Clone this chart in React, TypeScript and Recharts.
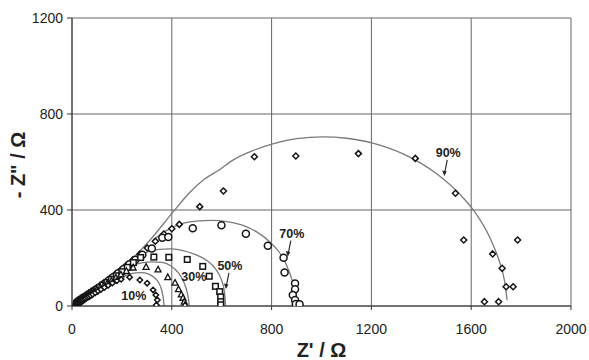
import React from 'react';
import { ComposedChart, XAxis, YAxis, CartesianGrid, Line, Scatter, Label } from 'recharts';

type P = { x: number; y: number };
const pts = (a: number[][]): P[] => a.map(([x, y]) => ({ x, y }));

const xTicks = [0, 400, 800, 1200, 1600, 2000];
const yTicks = [0, 400, 800, 1200];

// measured points (Z', -Z'') for each relative humidity
const rh10 = pts([
  [16, 5], [17, 7], [18, 9], [19, 11], [20, 12], [22, 13], [24, 15], [26, 16], [28, 18], [31, 19], [34, 21],
  [37, 23], [41, 25], [45, 27], [50, 30], [55, 33], [61, 36], [68, 40], [75, 44], [83, 49], [93, 55],
  [104, 62], [116, 69], [130, 77], [145, 86], [162, 96], [180, 105], [197, 111],
  [231, 120], [272, 108], [301, 95], [325, 67], [336, 46], [342, 25], [338, 4],
]);
const rh30 = pts([
  [17, 6], [18, 8], [19, 10], [20, 12], [21, 14], [23, 15], [25, 17], [27, 19], [30, 21], [33, 23], [36, 25],
  [40, 28], [44, 31], [49, 34], [54, 37], [60, 41], [66, 45], [73, 50], [81, 55], [90, 61], [100, 68],
  [112, 75], [126, 84], [141, 94], [158, 105], [176, 118], [196, 131], [218, 146], [245, 160],
  [297, 163], [345, 152], [384, 120], [413, 97], [427, 70], [438, 48], [445, 34], [450, 18], [453, 5],
]);
const rh50 = pts([
  [18, 7], [19, 9], [20, 11], [21, 13], [23, 15], [25, 17], [27, 19], [30, 21], [33, 24], [37, 26],
  [41, 29], [46, 33], [51, 36], [57, 40], [64, 45], [71, 50], [79, 56], [88, 62], [98, 69], [110, 77],
  [124, 87], [140, 98], [158, 111], [178, 126], [200, 143], [222, 161], [246, 181], [275, 202],
  [328, 204], [388, 203], [462, 194], [524, 165], [550, 124], [575, 82], [592, 60], [596, 38], [596, 18], [596, 5],
]);
const rh70 = pts([
  [19, 8], [20, 10], [21, 12], [22, 14], [24, 16], [26, 18], [29, 20], [32, 22], [35, 25], [39, 28],
  [43, 31], [48, 34], [53, 38], [59, 42], [66, 47], [74, 52], [83, 59], [93, 66], [104, 74], [117, 83],
  [131, 94], [147, 106], [165, 120], [185, 136], [207, 154], [230, 174], [254, 193], [282, 214],
  [320, 240], [362, 284], [386, 288], [484, 324], [599, 336], [697, 301], [785, 251], [848, 201],
  [852, 140], [894, 94], [894, 70], [885, 46], [894, 25], [897, 8], [912, 7],
]);
const rh90 = pts([
  [20, 9], [21, 11], [22, 13], [24, 15], [26, 17], [28, 19], [31, 21], [34, 24], [38, 27], [42, 30],
  [47, 34], [52, 38], [58, 42], [65, 47], [73, 53], [82, 60], [92, 68], [104, 77], [118, 88], [134, 100],
  [152, 115], [172, 131], [194, 149], [218, 170], [244, 192], [272, 216], [302, 242], [334, 270],
  [368, 300], [400, 322], [430, 340], [512, 414], [607, 479], [731, 622], [897, 625],
  [1148, 635], [1376, 615], [1537, 470], [1570, 275], [1786, 275], [1686, 217], [1724, 157],
  [1740, 80], [1768, 80], [1653, 18], [1710, 18],
]);

// fitted arcs
const fit10 = pts([
  [205, 122], [230, 133], [255, 138], [280, 139], [305, 134], [328, 120], [348, 96], [360, 64], [366, 32], [369, 0],
]);
const fit30 = pts([
  [246, 171], [280, 180], [320, 184], [360, 182], [395, 168], [425, 140], [448, 100], [462, 55], [468, 20], [470, 0],
]);
const fit50 = pts([
  [273, 212], [310, 228], [350, 236], [390, 238], [440, 232], [490, 216], [540, 190], [575, 155], [598, 112],
  [610, 65], [614, 25], [615, 0],
]);
const fit70 = pts([
  [325, 275], [380, 315], [440, 343], [500, 354], [560, 357], [620, 352], [680, 338], [740, 309], [790, 270],
  [830, 225], [860, 170], [880, 115], [894, 60], [900, 20], [902, 0],
]);
const fit90 = pts([
  [250, 205], [313, 275], [406, 393], [470, 471], [530, 528], [590, 567], [650, 611], [731, 650], [808, 677],
  [900, 697], [1008, 705], [1100, 699], [1209, 678], [1329, 633], [1463, 550], [1556, 464], [1610, 398],
  [1677, 280], [1710, 195], [1733, 108], [1744, 25],
]);

const pctLabels = [
  { x: 248, y: 42, text: '10%', arrow: false },
  { x: 488, y: 121, text: '30%', arrow: false },
  { x: 633, y: 167, text: '50%', arrow: true },
  { x: 881, y: 302, text: '70%', arrow: true },
  { x: 1508, y: 638, text: '90%', arrow: true },
];

const INK = '#151515';
const FONT = 'Liberation Sans, Arial, Helvetica, sans-serif';
const SW = 1.5;

const diamond = (r: number) => (p: any) => {
  const { cx, cy } = p;
  if (cx == null || cy == null) return <g />;
  return (
    <path d={`M${cx},${cy - r}L${cx + r},${cy}L${cx},${cy + r}L${cx - r},${cy}Z`} fill="#fff" stroke={INK} strokeWidth={SW} />
  );
};
const circle = (p: any) => {
  const { cx, cy } = p;
  if (cx == null || cy == null) return <g />;
  return <circle cx={cx} cy={cy} r={3.5} fill="#fff" stroke={INK} strokeWidth={SW} />;
};
const square = (p: any) => {
  const { cx, cy } = p;
  if (cx == null || cy == null) return <g />;
  return <rect x={cx - 2.8} y={cy - 2.8} width={5.6} height={5.6} fill="#fff" stroke={INK} strokeWidth={SW} />;
};
const triangle = (p: any) => {
  const { cx, cy } = p;
  if (cx == null || cy == null) return <g />;
  return <path d={`M${cx},${cy - 3.2}L${cx + 3},${cy + 2.4}L${cx - 3},${cy + 2.4}Z`} fill="#fff" stroke={INK} strokeWidth={1.3} />;
};
const pctShape = (p: any) => {
  const { cx, cy, payload } = p;
  if (cx == null || cy == null) return <g />;
  return (
    <g>
      <text x={cx} y={cy} textAnchor="middle" dominantBaseline="central" fontFamily={FONT} fontWeight="bold" fontSize={12.5} fill="#222">
        {payload.text}
      </text>
      {payload.arrow && (
        <g>
          <line x1={cx - 1} y1={cy + 7} x2={cx - 3.4} y2={cy + 19} stroke="#222" strokeWidth={1.1} />
          <path d={`M${cx - 4},${cy + 23}L${cx - 6},${cy + 17.5}L${cx - 1.5},${cy + 18.5}Z`} fill="#222" />
        </g>
      )}
    </g>
  );
};

const lineProps = { dataKey: 'y', type: 'monotone' as const, dot: false, stroke: '#7a7a7a', strokeWidth: 1.3, isAnimationActive: false, legendType: 'none' as const };

export default function App() {
  return (
    <div style={{ position: 'absolute', left: 0, top: 0, background: '#fff' }}>
      <ComposedChart width={589} height={360} margin={{ top: 18, right: 18, bottom: 0, left: 12 }}>
        <CartesianGrid stroke="#666" strokeWidth={1} />
        <XAxis
          type="number"
          dataKey="x"
          domain={[0, 2000]}
          ticks={xTicks}
          allowDataOverflow
          height={54}
          stroke="#333"
          tickSize={4}
          tickMargin={14}
          tick={{ fontSize: 14, fill: '#222', fontFamily: FONT }}
        >
          <Label value="Z' / Ω" position="insideBottom" offset={3} style={{ fontSize: 20, fontWeight: 'bold', fill: '#222', fontFamily: FONT }} />
        </XAxis>
        <YAxis
          type="number"
          dataKey="y"
          domain={[0, 1200]}
          ticks={yTicks}
          allowDataOverflow
          width={60}
          stroke="#333"
          tickSize={5}
          tickMargin={4}
          tick={{ fontSize: 14, fill: '#222', fontFamily: FONT }}
        >
          <Label
            content={(props: any) => {
              const vb = props.viewBox || { x: 12, y: 18, width: 60, height: 288 };
              const x = vb.x + 6;
              const y = vb.y + vb.height / 2 + 3;
              return (
                <text x={x} y={y} transform={`rotate(-90 ${x} ${y})`} textAnchor="middle" dominantBaseline="central" fontFamily={FONT} fontWeight="bold" fontSize={20} fill="#222">
                  - Z" / Ω
                </text>
              );
            }}
          />
        </YAxis>
        <Line data={fit10} {...lineProps} />
        <Line data={fit30} {...lineProps} />
        <Line data={fit50} {...lineProps} />
        <Line data={fit70} {...lineProps} />
        <Line data={fit90} {...lineProps} />
        <Scatter data={rh90} shape={diamond(3)} isAnimationActive={false} />
        <Scatter data={rh70} shape={circle} isAnimationActive={false} />
        <Scatter data={rh50} shape={square} isAnimationActive={false} />
        <Scatter data={rh30} shape={triangle} isAnimationActive={false} />
        <Scatter data={rh10} shape={diamond(2.7)} isAnimationActive={false} />
        <Scatter data={pctLabels} shape={pctShape} isAnimationActive={false} />
      </ComposedChart>
    </div>
  );
}
